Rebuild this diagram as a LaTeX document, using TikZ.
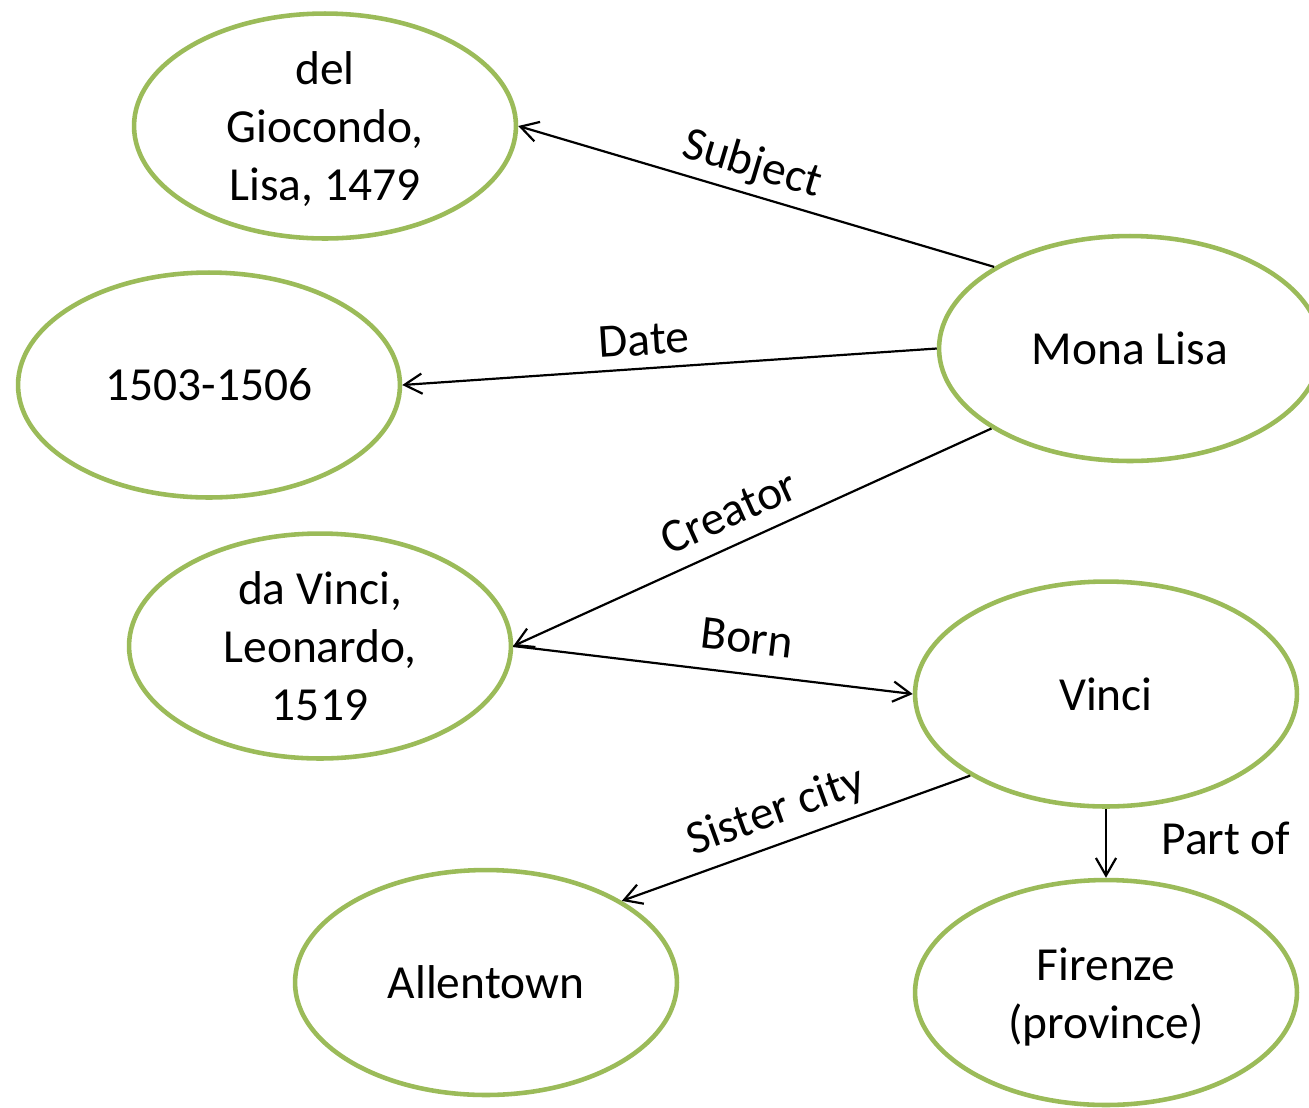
\documentclass[tikz,border=0pt]{standalone}
\usepackage{fontspec}
\setmainfont{Carlito}
\usetikzlibrary{shapes.geometric,arrows.meta}
\definecolor{leaf}{HTML}{9BBB59}
\begin{document}
\begin{tikzpicture}[x=0.02cm,y=-0.02cm,
  bubble/.style={ellipse,draw=leaf,line width=2.6pt,minimum width=7.64cm,minimum height=4.5cm,inner sep=0pt},
  txt/.style={align=center,font=\fontsize{27}{33}\selectfont,inner sep=0pt},
  rel/.style={draw,line width=1.25pt,-{Straight Barb[length=10pt,width=11.5pt]}},
  tag/.style={font=\fontsize{27}{33}\selectfont,inner sep=0pt}]
\useasboundingbox (0,0) rectangle (1309,1107);

% entities
\node[bubble] (dg) at (325,126) {};
\node[bubble] (dt) at (209,385) {};
\node[bubble] (ml) at (1130,348.5) {};
\node[bubble] (dv) at (320,646) {};
\node[bubble] (vi) at (1106,694) {};
\node[bubble] (al) at (486,982.5) {};
\node[bubble] (fi) at (1106,992.5) {};

\node[txt] (dgt) at ([yshift=-3*0.02cm]dg) {del\\Giocondo,\\Lisa, 1479};
\node[txt] (dtt) at (dt) {1503-1506};
\node[txt] (mlt) at (ml) {Mona Lisa};
\node[txt] (dvt) at (dv) {da Vinci,\\Leonardo,\\1519};
\node[txt] (vit) at (vi) {Vinci};
\node[txt] (alt) at (al) {Allentown};
\node[txt] (fit) at ([yshift=-4*0.02cm]fi) {Firenze\\(province)};

% relations
\draw[rel] (ml.149) -- (dg.east);
\draw[rel] (ml.west) -- (dt.east);
\draw[rel] (ml.210) -- (dv.east);
\draw[rel] (dv.east) -- (vi.west);
\draw[rel] (vi.211) -- (al.31);
\draw[rel] (vi.south) -- (fi.north);

% relation names
\node[tag,rotate=-16.7] (l1) at (752,165) {Subject};
\node[tag,rotate=3.7] (l2) at (644,340) {Date};
\node[tag,rotate=24.2] (l3) at (729,512) {Creator};
\node[tag,rotate=-6.7] (l4) at (747,638) {Born};
\node[tag,rotate=19.9] (l5) at (776,812) {Sister city};
\node[tag] (l6) at (1226,838) {Part of};
\end{tikzpicture}
\end{document}
